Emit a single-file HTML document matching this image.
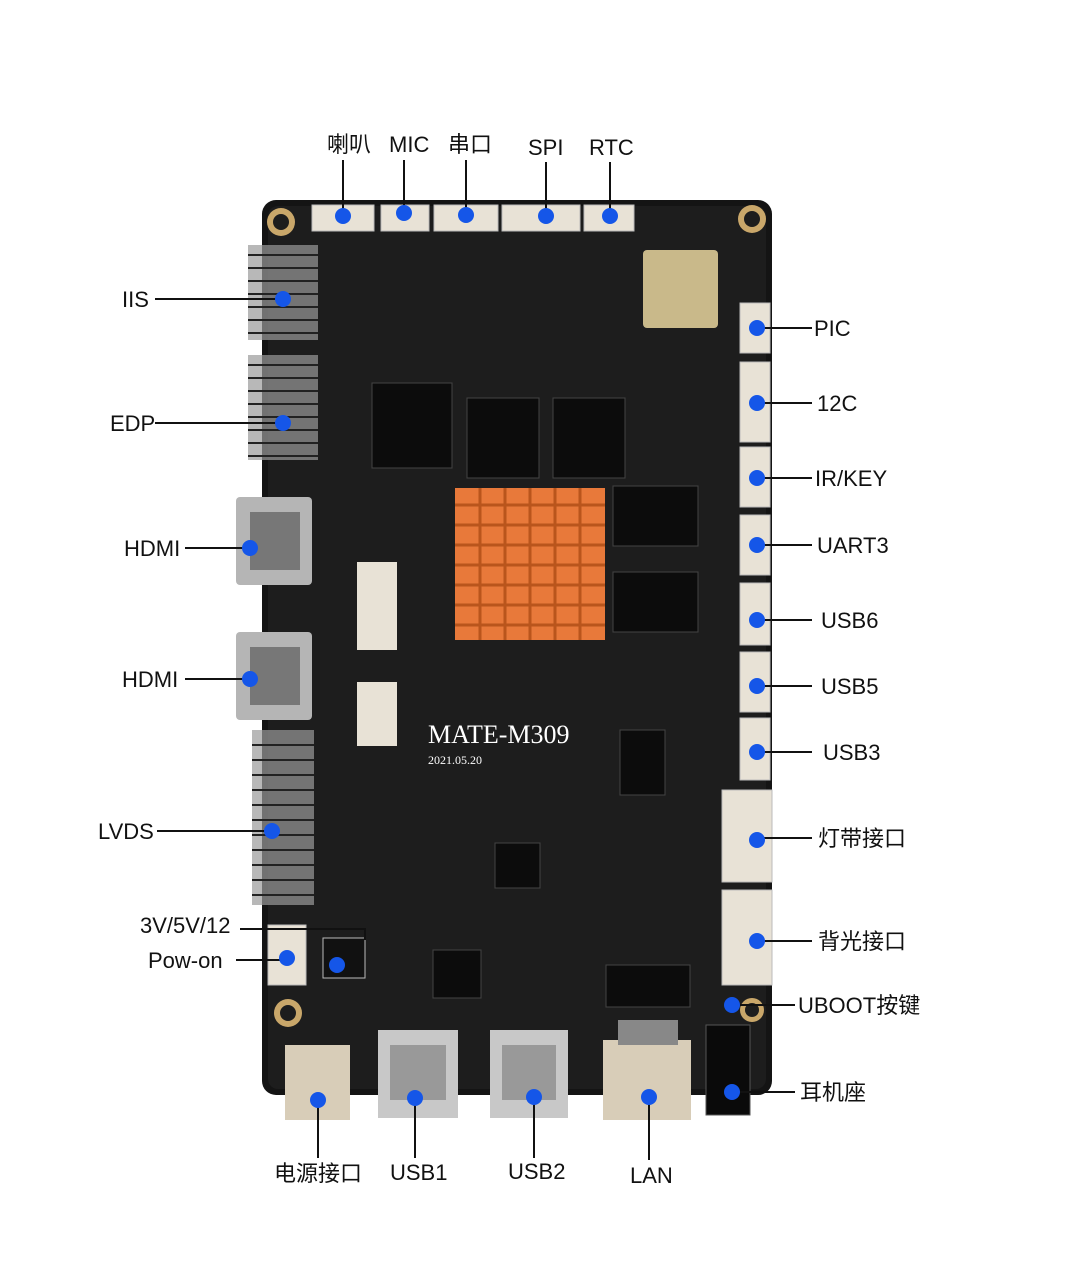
<!DOCTYPE html>
<html><head><meta charset="utf-8"><style>
html,body{margin:0;padding:0;background:#fff;}
svg{display:block;}
text{font-family:"Liberation Sans","Noto Sans CJK SC",sans-serif;font-size:22px;fill:#111;}
</style></head><body>
<svg width="1083" height="1268" viewBox="0 0 1083 1268" xmlns="http://www.w3.org/2000/svg">
<rect width="1083" height="1268" fill="#fff"/>
<!-- board -->
<rect x="262" y="200" width="510" height="895" rx="14" fill="#141414"/>
<rect x="268" y="206" width="498" height="883" rx="10" fill="#1d1d1d"/>
<!-- mounting holes -->
<g fill="#c9a76a"><circle cx="281" cy="222" r="14"/><circle cx="752" cy="219" r="14"/><circle cx="288" cy="1013" r="14"/><circle cx="752" cy="1010" r="12"/></g>
<g fill="#1d1d1d"><circle cx="281" cy="222" r="8"/><circle cx="752" cy="219" r="8"/><circle cx="288" cy="1013" r="8"/><circle cx="752" cy="1010" r="7"/></g>
<!-- top white connectors -->
<g fill="#e8e2d6" stroke="#bbb"><rect x="312" y="205" width="62" height="26"/><rect x="381" y="205" width="48" height="26"/><rect x="434" y="205" width="64" height="26"/><rect x="502" y="205" width="78" height="26"/><rect x="584" y="205" width="50" height="26"/></g>
<!-- left pin headers -->
<g fill="#9a9a9a">
<rect x="248" y="245" width="70" height="95" opacity="0.7"/>
<rect x="248" y="355" width="70" height="105" opacity="0.7"/>
<rect x="252" y="730" width="62" height="175" opacity="0.7"/>
</g>
<g stroke="#222" stroke-width="2">
<path d="M248 255H318M248 268H318M248 281H318M248 294H318M248 307H318M248 320H318M248 333H318"/>
<path d="M248 365H318M248 378H318M248 391H318M248 404H318M248 417H318M248 430H318M248 443H318M248 456H318"/>
<path d="M252 745H314M252 760H314M252 775H314M252 790H314M252 805H314M252 820H314M252 835H314M252 850H314M252 865H314M252 880H314M252 895H314"/>
</g>
<!-- HDMI -->
<g><rect x="236" y="497" width="76" height="88" rx="4" fill="#b5b5b5"/><rect x="250" y="512" width="50" height="58" fill="#777"/>
<rect x="236" y="632" width="76" height="88" rx="4" fill="#b5b5b5"/><rect x="250" y="647" width="50" height="58" fill="#777"/></g>
<!-- FPC connectors -->
<rect x="357" y="562" width="40" height="88" fill="#e8e2d6"/><rect x="357" y="682" width="40" height="64" fill="#e8e2d6"/>
<!-- chips -->
<g fill="#0c0c0c" stroke="#444">
<rect x="372" y="383" width="80" height="85"/><rect x="467" y="398" width="72" height="80"/><rect x="553" y="398" width="72" height="80"/>
<rect x="613" y="486" width="85" height="60"/><rect x="613" y="572" width="85" height="60"/>
<rect x="620" y="730" width="45" height="65"/><rect x="495" y="843" width="45" height="45"/>
<rect x="433" y="950" width="48" height="48"/><rect x="606" y="965" width="84" height="42"/>
</g>
<rect x="643" y="250" width="75" height="78" rx="4" fill="#c9b98a"/>
<!-- heatsink -->
<rect x="455" y="488" width="150" height="152" fill="#e8793a"/>
<g stroke="#b9551c" stroke-width="3"><path d="M455 505H605M455 525H605M455 545H605M455 565H605M455 585H605M455 605H605M455 625H605M480 488V640M505 488V640M530 488V640M555 488V640M580 488V640"/></g>
<text x="428" y="743" style="font-family:'Liberation Serif',serif;font-size:26px;fill:#fff">MATE-M309</text>
<text x="428" y="764" style="font-family:'Liberation Serif',serif;font-size:12px;fill:#fff">2021.05.20</text>
<!-- right white connectors -->
<g fill="#e8e2d6" stroke="#bbb">
<rect x="740" y="303" width="30" height="50"/><rect x="740" y="362" width="30" height="80"/><rect x="740" y="447" width="30" height="60"/>
<rect x="740" y="515" width="30" height="60"/><rect x="740" y="583" width="30" height="62"/><rect x="740" y="652" width="30" height="60"/>
<rect x="740" y="718" width="30" height="62"/><rect x="722" y="790" width="50" height="92"/><rect x="722" y="890" width="50" height="95"/>
<rect x="268" y="925" width="38" height="60"/><rect x="323" y="938" width="42" height="40" fill="#111"/>
</g>
<!-- bottom ports -->
<rect x="378" y="1030" width="80" height="88" fill="#c8c8c8"/><rect x="390" y="1045" width="56" height="55" fill="#999"/>
<rect x="490" y="1030" width="78" height="88" fill="#c8c8c8"/><rect x="502" y="1045" width="54" height="55" fill="#999"/>
<rect x="603" y="1040" width="88" height="80" fill="#d8cdb8"/><rect x="618" y="1020" width="60" height="25" fill="#888"/>
<rect x="285" y="1045" width="65" height="75" fill="#d8cdb8"/>
<rect x="706" y="1025" width="44" height="90" fill="#0a0a0a" stroke="#555"/>
<!-- leader lines -->
<g stroke="#111" stroke-width="2" fill="none">
<path d="M343 160V216M404 160V213M466 160V215M546 162V216M610 162V216"/>
<path d="M155 299H283M155 423H283M185 548H250M185 679H250M157 831H272"/>
<path d="M240 929H365V940M236 960H287"/>
<path d="M757 328H812M757 403H812M757 478H812M757 545H812M757 620H812M757 686H812M757 752H812M757 838H812M757 941H812M732 1005H795M732 1092H795"/>
<path d="M318 1100V1158M415 1098V1158M534 1097V1158M649 1097V1160"/>
</g>
<g fill="#1556e8">
<circle cx="343" cy="216" r="8"/><circle cx="404" cy="213" r="8"/><circle cx="466" cy="215" r="8"/><circle cx="546" cy="216" r="8"/><circle cx="610" cy="216" r="8"/>
<circle cx="283" cy="299" r="8"/><circle cx="283" cy="423" r="8"/><circle cx="250" cy="548" r="8"/><circle cx="250" cy="679" r="8"/><circle cx="272" cy="831" r="8"/>
<circle cx="337" cy="965" r="8"/><circle cx="287" cy="958" r="8"/>
<circle cx="757" cy="328" r="8"/><circle cx="757" cy="403" r="8"/><circle cx="757" cy="478" r="8"/><circle cx="757" cy="545" r="8"/><circle cx="757" cy="620" r="8"/><circle cx="757" cy="686" r="8"/><circle cx="757" cy="752" r="8"/><circle cx="757" cy="840" r="8"/><circle cx="757" cy="941" r="8"/><circle cx="732" cy="1005" r="8"/><circle cx="732" cy="1092" r="8"/>
<circle cx="318" cy="1100" r="8"/><circle cx="415" cy="1098" r="8"/><circle cx="534" cy="1097" r="8"/><circle cx="649" cy="1097" r="8"/>
</g>
<!-- labels -->
<text x="327" y="152">喇叭</text><text x="389" y="152">MIC</text><text x="448" y="152">串口</text><text x="528" y="155">SPI</text><text x="589" y="155">RTC</text>
<text x="122" y="307">IIS</text><text x="110" y="431">EDP</text><text x="124" y="556">HDMI</text><text x="122" y="687">HDMI</text><text x="98" y="839">LVDS</text>
<text x="140" y="933">3V/5V/12</text><text x="148" y="968">Pow-on</text>
<text x="814" y="336">PIC</text><text x="817" y="411">12C</text><text x="815" y="486">IR/KEY</text><text x="817" y="553">UART3</text><text x="821" y="628">USB6</text><text x="821" y="694">USB5</text><text x="823" y="760">USB3</text>
<text x="818" y="846">灯带接口</text><text x="818" y="949">背光接口</text><text x="798" y="1013">UBOOT按键</text><text x="800" y="1100">耳机座</text>
<text x="274" y="1181">电源接口</text><text x="390" y="1180">USB1</text><text x="508" y="1179">USB2</text><text x="630" y="1183">LAN</text>
</svg>
</body></html>
